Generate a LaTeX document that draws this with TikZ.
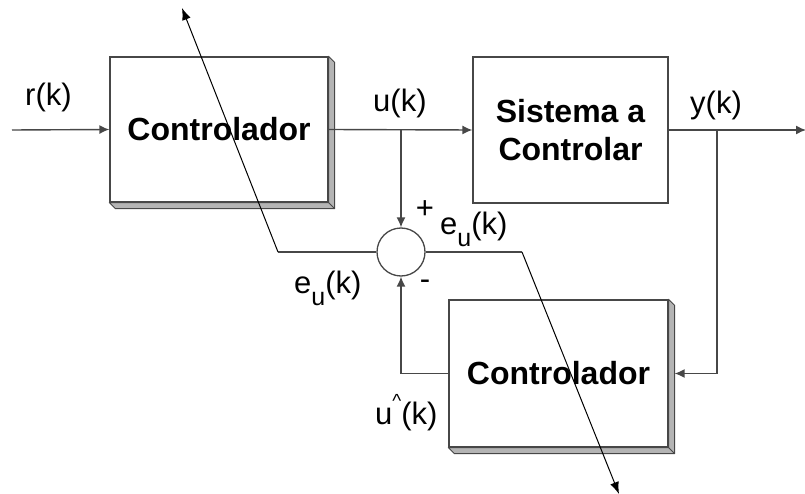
\documentclass[tikz,border=0pt]{standalone}
\usepackage{fontspec}
\setmainfont{Liberation Sans}
\usetikzlibrary{arrows.meta,calc}
\definecolor{wire}{HTML}{474747}
\definecolor{shade}{HTML}{B4B4B4}
\tikzset{
  blk/.style={draw=wire, line width=1.3pt, fill=white, inner sep=0pt, align=center,
    font=\fontsize{32}{38}\selectfont\bfseries},
  sig/.style={draw=wire, line width=1.4pt},
  sigarr/.style={sig, -{Latex[length=10pt,width=9pt]}},
  gain/.style={draw=black, line width=1pt, -{Latex[length=12pt,width=9pt]}},
  sumnd/.style={circle, draw=wire, line width=1.3pt, minimum size=48pt, inner sep=0pt},
  shadow/.style={fill=shade, draw=wire, line width=0.9pt, line join=round},
  lab/.style={font=\fontsize{31}{36}\selectfont, inner sep=0pt, anchor=base west},
  sgn/.style={font=\fontsize{31}{36}\selectfont, inner sep=0pt}
}
\newcommand{\subu}{\raisebox{-12pt}{\fontsize{25}{25}\selectfont u}}

\begin{document}
\begin{tikzpicture}[x=1pt, y=-1pt]
  \useasboundingbox (0,0) rectangle (805,494);

  \node[blk, minimum width=218pt, minimum height=145pt] (ctrl) at (219,129.5) {\raisebox{-8pt}{Controlador}};
  \node[blk, minimum width=195pt, minimum height=146pt] (plant) at (570.5,130) {Sistema a\\Controlar};
  \node[blk, minimum width=219pt, minimum height=147pt] (model) at (558.5,373.5) {Controlador};
  \node[sumnd] (sum) at (401,252) {};

  % 3d edges of the controllers
  \foreach \b in {ctrl,model}{
    \filldraw[shadow] (\b.north east) -- ++(6,6) -- ($(\b.south east)+(6,6)$)
      -- ($(\b.south west)+(6,6)$) -- (\b.south west) -- (\b.south east) -- cycle;
    \draw[wire, line width=0.9pt] (\b.south east) -- ++(6,6);
  }

  \coordinate (in) at (12,130);
  \coordinate (out) at (806,130);
  \coordinate (ybr) at (717,130);
  \coordinate (kL) at (278,252);
  \coordinate (kR) at (522,252);
  \coordinate (tipL) at (182,8);
  \coordinate (tipR) at (619,494);

  \draw[sigarr] (in) -- (ctrl.west);
  \draw[sigarr] (ctrl.east) -- (plant.west);
  \draw[sigarr] (ctrl.east -| sum) -- (sum.north);
  \draw[sigarr] (plant.east) -- (out);
  \draw[sigarr] (ybr) |- ([xshift=6pt]model.east);
  \draw[sigarr] (model.west) -| (sum.south);
  \draw[sig] (sum.west) -- (kL);
  \draw[sig] (sum.east) -- (kR);

  % adjustable gain arrows
  \draw[gain] (kL) -- (tipL);
  \draw[gain] (kR) -- (tipR);

  \node[lab] at (25,106) {r(k)};
  \node[lab] at (373,112) {u(k)};
  \node[lab] at (690,114) {y(k)};
  \node[lab] at (440,235) {e\subu(k)};
  \node[lab] at (294,293) {e\subu(k)};
  \node[lab] at (375,424) {u\raisebox{17pt}{\fontsize{19}{19}\selectfont\textasciicircum}(k)};
  \node[sgn] at (425,210) {+};
  \node[sgn] at (425,285) {-};
\end{tikzpicture}
\end{document}
